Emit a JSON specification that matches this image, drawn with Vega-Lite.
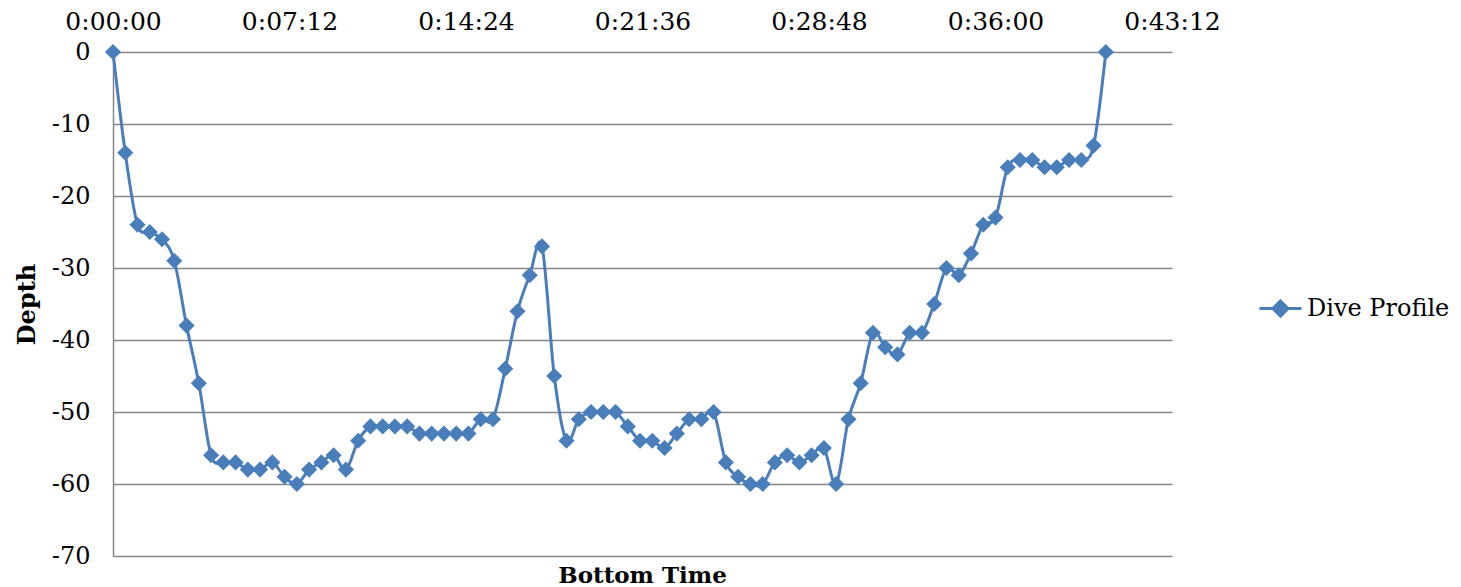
{
  "$schema": "https://vega.github.io/schema/vega-lite/v6.json",
  "width": 1059,
  "height": 504,
  "autosize": "none",
  "padding": {"left": 113, "top": 52, "right": 289, "bottom": 31},
  "background": "white",
  "title": {"text": "Bottom Time", "orient": "bottom", "anchor": "middle", "font": "DejaVu Serif", "fontSize": 23, "fontWeight": "bold", "color": "black", "offset": -3},
  "config": {
    "view": {"stroke": null},
    "font": "DejaVu Serif"
  },
  "data": {"values": [
    {"t": 0, "depth": 0}, {"t": 30, "depth": -14}, {"t": 60, "depth": -24}, {"t": 90, "depth": -25},
    {"t": 120, "depth": -26}, {"t": 150, "depth": -29}, {"t": 180, "depth": -38}, {"t": 210, "depth": -46},
    {"t": 240, "depth": -56}, {"t": 270, "depth": -57}, {"t": 300, "depth": -57}, {"t": 330, "depth": -58},
    {"t": 360, "depth": -58}, {"t": 390, "depth": -57}, {"t": 420, "depth": -59}, {"t": 450, "depth": -60},
    {"t": 480, "depth": -58}, {"t": 510, "depth": -57}, {"t": 540, "depth": -56}, {"t": 570, "depth": -58},
    {"t": 600, "depth": -54}, {"t": 630, "depth": -52}, {"t": 660, "depth": -52}, {"t": 690, "depth": -52},
    {"t": 720, "depth": -52}, {"t": 750, "depth": -53}, {"t": 780, "depth": -53}, {"t": 810, "depth": -53},
    {"t": 840, "depth": -53}, {"t": 870, "depth": -53}, {"t": 900, "depth": -51}, {"t": 930, "depth": -51},
    {"t": 960, "depth": -44}, {"t": 990, "depth": -36}, {"t": 1020, "depth": -31}, {"t": 1050, "depth": -27},
    {"t": 1080, "depth": -45}, {"t": 1110, "depth": -54}, {"t": 1140, "depth": -51}, {"t": 1170, "depth": -50},
    {"t": 1200, "depth": -50}, {"t": 1230, "depth": -50}, {"t": 1260, "depth": -52}, {"t": 1290, "depth": -54},
    {"t": 1320, "depth": -54}, {"t": 1350, "depth": -55}, {"t": 1380, "depth": -53}, {"t": 1410, "depth": -51},
    {"t": 1440, "depth": -51}, {"t": 1470, "depth": -50}, {"t": 1500, "depth": -57}, {"t": 1530, "depth": -59},
    {"t": 1560, "depth": -60}, {"t": 1590, "depth": -60}, {"t": 1620, "depth": -57}, {"t": 1650, "depth": -56},
    {"t": 1680, "depth": -57}, {"t": 1710, "depth": -56}, {"t": 1740, "depth": -55}, {"t": 1770, "depth": -60},
    {"t": 1800, "depth": -51}, {"t": 1830, "depth": -46}, {"t": 1860, "depth": -39}, {"t": 1890, "depth": -41},
    {"t": 1920, "depth": -42}, {"t": 1950, "depth": -39}, {"t": 1980, "depth": -39}, {"t": 2010, "depth": -35},
    {"t": 2040, "depth": -30}, {"t": 2070, "depth": -31}, {"t": 2100, "depth": -28}, {"t": 2130, "depth": -24},
    {"t": 2160, "depth": -23}, {"t": 2190, "depth": -16}, {"t": 2220, "depth": -15}, {"t": 2250, "depth": -15},
    {"t": 2280, "depth": -16}, {"t": 2310, "depth": -16}, {"t": 2340, "depth": -15}, {"t": 2370, "depth": -15},
    {"t": 2400, "depth": -13}, {"t": 2430, "depth": 0}
  ]},
  "mark": {"type": "line", "interpolate": "cardinal", "tension": 0, "strokeWidth": 3, "point": {"shape": "diamond", "size": 260, "filled": true, "opacity": 1}},
  "encoding": {
    "x": {
      "field": "t", "type": "quantitative",
      "scale": {"domain": [0, 2592], "nice": false, "zero": false},
      "axis": {
        "orient": "top", "values": [0, 432, 864, 1296, 1728, 2160, 2592],
        "labelExpr": "floor(datum.value/3600) + ':' + pad(floor((datum.value%3600)/60)+'', 2, '0', 'left') + ':' + pad((datum.value%60)+'', 2, '0', 'left')",
        "grid": false, "domain": false, "ticks": false,
        "labelFont": "DejaVu Serif", "labelFontSize": 25, "labelColor": "black", "labelPadding": 18,
        "labelFlush": false, "labelOverlap": false, "title": null
      }
    },
    "y": {
      "field": "depth", "type": "quantitative",
      "scale": {"domain": [-70, 0], "nice": false, "zero": false},
      "axis": {
        "values": [-70, -60, -50, -40, -30, -20, -10, 0],
        "labelExpr": "datum.value + ''",
        "grid": true, "gridColor": "#868686", "gridWidth": 1.5,
        "domain": true, "domainColor": "#868686", "domainWidth": 1.5,
        "ticks": false, "labelPadding": 23,
        "labelFont": "DejaVu Serif", "labelFontSize": 24, "labelColor": "black",
        "title": "Depth", "titleFont": "DejaVu Serif", "titleFontSize": 24, "titleFontWeight": "bold", "titleColor": "black", "titlePadding": 12
      }
    },
    "color": {
      "datum": "Dive Profile", "type": "nominal",
      "scale": {"range": ["#4A7EBB"]},
      "legend": {
        "title": null, "orient": "none", "legendX": 1145, "legendY": 234,
        "symbolType": "M-1,0H1M0,-0.36L0.36,0L0,0.36L-0.36,0Z",
        "symbolSize": 1764, "symbolStrokeWidth": 3, "symbolFillColor": "#4A7EBB", "symbolStrokeColor": "#4A7EBB",
        "symbolOpacity": 1,
        "labelFont": "DejaVu Serif", "labelFontSize": 24, "labelColor": "black", "labelOffset": 4
      }
    }
  }
}
